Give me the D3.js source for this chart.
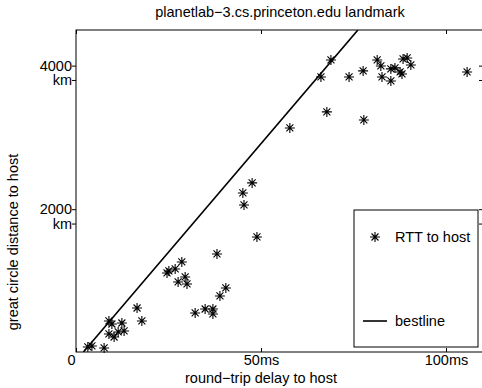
<!DOCTYPE html>
<html>
<head>
<meta charset="utf-8">
<script src="https://cdn.jsdelivr.net/npm/d3@7"></script>
<style>
  body { margin: 0; background: #fff; }
  svg { font-family: "Liberation Sans", Arial, sans-serif; }
</style>
</head>
<body>
<div id="chart"></div>
<script>
// measured round-trip delay (ms) and great circle distance (km), one entry per host
const rttMs = [68.9, 66.2, 73.8, 77.6, 81.4, 82.4, 82.7, 85.1, 85.1, 86.2, 87.6, 88.1, 88.4, 89.5, 90.5, 105.7,
    67.8, 77.8, 57.8, 47.6, 45.1, 45.4, 48.9, 38.1, 28.6, 25.1, 26.8, 24.6, 27.6, 29.5, 30.0, 40.5, 38.9,
    32.2, 34.9, 37.0, 37.0, 16.5, 17.8, 8.9, 9.7, 12.4, 13.0, 8.9, 10.3, 11.4, 3.2, 4.3, 7.6];
const distKm = [4179, 3942, 3942, 4026, 4179, 4095, 3942, 3886, 4054, 4068, 4012, 3984, 4193, 4207, 4109, 4012,
    3455, 3343, 3232, 2466, 2326, 2159, 1713, 1477, 1365, 1240, 1268, 1212, 1087, 1156, 1059, 1003, 892,
    655, 710, 710, 641, 724, 543, 543, 501, 515, 404, 362, 320, 390, 181, 195, 167];

// best line endpoints (rtt ms, km)
const bestRtt = [2.0, 76.2];
const bestKm = [111, 4597];

const xTicks = [0, 50, 100];
const xTickLabels = ["0", "50ms", "100ms"];
const yTicks = [2000, 4000];
const yTickLabels = ["2000", "4000"];
const yUnit = "km";

const W = 482, H = 388;
const margin = { top: 30, left: 76, bottom: 36, rightEdge: 483 };
const fontSize = 14.5;

const svg = d3.select("#chart").append("svg")
    .attr("width", W)
    .attr("height", H);

const x = d3.scaleLinear().domain([0, 110]).range([margin.left, margin.rightEdge]);
const y = d3.scaleLinear().domain([111, 4596]).range([H - margin.bottom, margin.top]);

svg.append("clipPath").attr("id", "plot-clip")
    .append("rect")
    .attr("x", x.range()[0]).attr("y", y.range()[1])
    .attr("width", x.range()[1] - x.range()[0])
    .attr("height", y.range()[0] - y.range()[1]);

// box
svg.append("rect")
    .attr("x", x.range()[0]).attr("y", y.range()[1])
    .attr("width", x.range()[1] - x.range()[0])
    .attr("height", y.range()[0] - y.range()[1])
    .attr("fill", "none")
    .attr("stroke", "#000")
    .attr("stroke-width", 1);

// bottom axis: labels + inward ticks
const xAxis = svg.append("g")
    .attr("transform", `translate(0,${y.range()[0]})`)
    .call(d3.axisBottom(x).tickValues(xTicks).tickSize(-4).tickPadding(3)
        .tickFormat((d, i) => xTickLabels[i]));
xAxis.select(".domain").remove();
xAxis.selectAll("line").attr("stroke", "#000");
xAxis.selectAll("text").attr("fill", "#000").style("font-size", fontSize + "px");
xAxis.selectAll(".tick").filter(d => d === 0).select("text").attr("dx", -5);

// top axis ticks
const xTop = svg.append("g")
    .attr("transform", `translate(0,${y.range()[1]})`)
    .call(d3.axisTop(x).tickValues(xTicks).tickSize(-4).tickFormat(""));
xTop.select(".domain").remove();
xTop.selectAll("line").attr("stroke", "#000");

// left axis: two tick marks per labelled value, two-line label
const yTickMarks = yTicks.flatMap(v => [v - 100, v + 100]);
const yAxis = svg.append("g")
    .attr("transform", `translate(${x.range()[0]},0)`)
    .call(d3.axisLeft(y).tickValues(yTickMarks).tickSize(4).tickFormat(""));
yAxis.select(".domain").remove();
yAxis.selectAll("line").attr("stroke", "#000");

const yRight = svg.append("g")
    .attr("transform", `translate(${x.range()[1]},0)`)
    .call(d3.axisRight(y).tickValues(yTickMarks).tickSize(-4).tickFormat(""));
yRight.select(".domain").remove();
yRight.selectAll("line").attr("stroke", "#000");

const yLab = svg.append("g").selectAll("text")
    .data(yTicks)
    .join("text")
    .attr("text-anchor", "end")
    .attr("fill", "#000")
    .style("font-size", fontSize + "px");
yLab.append("tspan")
    .attr("x", x.range()[0] - 4)
    .attr("y", d => y(d + 100) + 5)
    .text((d, i) => yTickLabels[i]);
yLab.append("tspan")
    .attr("x", x.range()[0] - 4)
    .attr("y", d => y(d - 100) + 5)
    .text(yUnit);

// best line
const line = d3.line().x(d => x(d[0])).y(d => y(d[1]));
svg.append("path")
    .datum(bestRtt.map((r, i) => [r, bestKm[i]]))
    .attr("d", line)
    .attr("clip-path", "url(#plot-clip)")
    .attr("fill", "none")
    .attr("stroke", "#000")
    .attr("stroke-width", 1.6);

// asterisk markers
const star = "M-5,0H5M0,-5V5M-3.5,-3.5L3.5,3.5M-3.5,3.5L3.5,-3.5";
svg.append("g").selectAll("path")
    .data(rttMs.map((r, i) => [r, distKm[i]]))
    .join("path")
    .attr("transform", d => `translate(${x(d[0])},${y(d[1])})`)
    .attr("d", star)
    .attr("fill", "none")
    .attr("stroke", "#000")
    .attr("stroke-width", 1.1);

// legend
const lg = svg.append("g");
lg.append("rect")
    .attr("x", 354).attr("y", 210).attr("width", 124).attr("height", 137)
    .attr("fill", "#fff").attr("stroke", "#000").attr("stroke-width", 1);
lg.append("path")
    .attr("transform", "translate(375,237)")
    .attr("d", star)
    .attr("fill", "none").attr("stroke", "#000").attr("stroke-width", 1.1);
lg.append("text")
    .attr("x", 395).attr("y", 242)
    .style("font-size", fontSize + "px")
    .text("RTT to host");
lg.append("line")
    .attr("x1", 363).attr("x2", 387).attr("y1", 321).attr("y2", 321)
    .attr("stroke", "#000").attr("stroke-width", 1.6);
lg.append("text")
    .attr("x", 395).attr("y", 326)
    .style("font-size", fontSize + "px")
    .text("bestline");

// titles
svg.append("text")
    .attr("x", 280).attr("y", 17)
    .attr("text-anchor", "middle")
    .style("font-size", fontSize + "px")
    .text("planetlab\u22123.cs.princeton.edu landmark");

svg.append("text")
    .attr("x", 261).attr("y", 383)
    .attr("text-anchor", "middle")
    .style("font-size", fontSize + "px")
    .text("round\u2212trip delay to host");

svg.append("text")
    .attr("transform", "translate(18,242) rotate(-90)")
    .attr("text-anchor", "middle")
    .style("font-size", fontSize + "px")
    .text("great circle distance to host");
</script>
</body>
</html>
